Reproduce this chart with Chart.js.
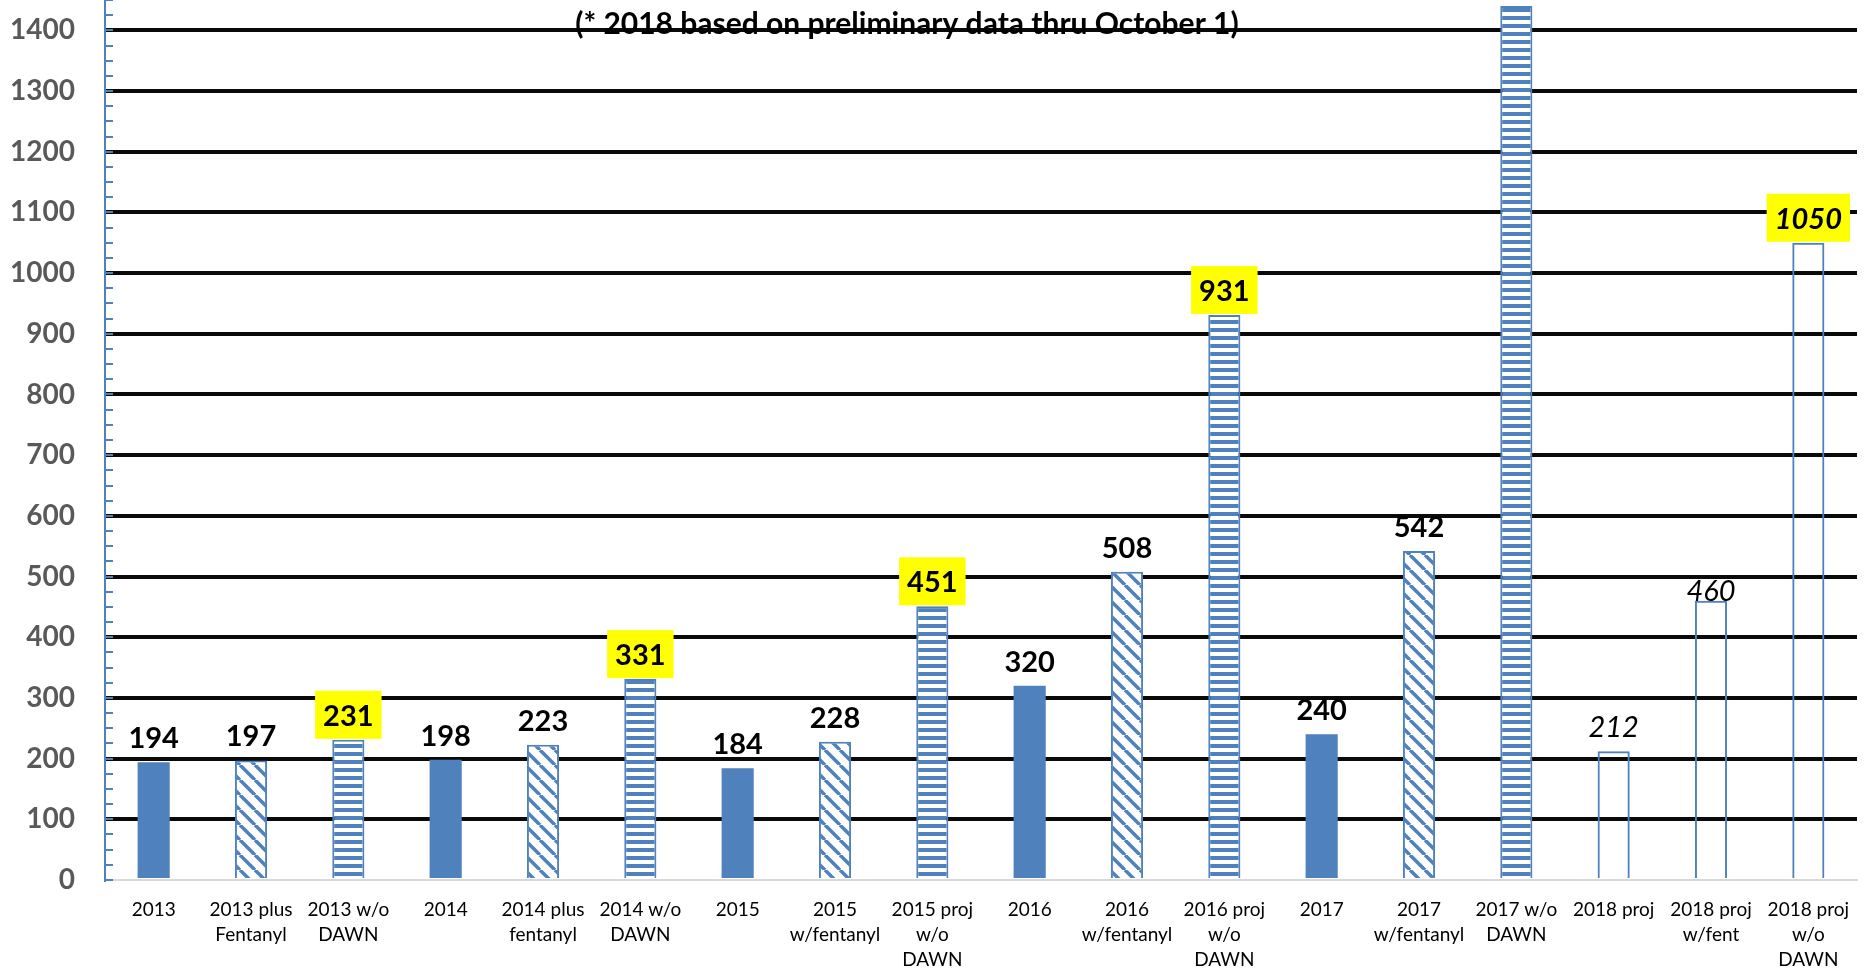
<!DOCTYPE html>
<html lang="en">
<head>
  <meta charset="UTF-8" />
  <title>Projected counts 2013-2018</title>
  <script src="https://cdn.jsdelivr.net/npm/chart.js"></script>
  <style>
    html, body { margin: 0; padding: 0; background: #fff; }
    #wrap { width: 1870px; height: 973px; position: relative; }
  </style>
</head>
<body>
  <div id="wrap"><canvas id="chart"></canvas></div>

  <script>
    // x-axis categories, broken into lines like the original
    const categories = [
      ['2013'], ['2013 plus', 'Fentanyl'], ['2013 w/o', 'DAWN'],
      ['2014'], ['2014 plus', 'fentanyl'], ['2014 w/o', 'DAWN'],
      ['2015'], ['2015', 'w/fentanyl'], ['2015 proj', 'w/o', 'DAWN'],
      ['2016'], ['2016', 'w/fentanyl'], ['2016 proj', 'w/o', 'DAWN'],
      ['2017'], ['2017', 'w/fentanyl'], ['2017 w/o', 'DAWN'],
      ['2018 proj'], ['2018 proj', 'w/fent'], ['2018 proj', 'w/o', 'DAWN']
    ];
    const values = [194, 197, 231, 198, 223, 331, 184, 228, 451, 320, 508, 931, 240, 542, 1440, 212, 460, 1050];
    const yTicks = [0, 100, 200, 300, 400, 500, 600, 700, 800, 900, 1000, 1100, 1200, 1300, 1400];

    // fill type of each bar
    const barKind = ['solid', 'diag', 'horiz', 'solid', 'diag', 'horiz', 'solid', 'diag', 'horiz',
                     'solid', 'diag', 'horiz', 'solid', 'diag', 'horiz', 'open', 'open', 'open'];
    const highlighted = [2, 5, 8, 11, 17];   // yellow label boxes
    const italicBars = [15, 16, 17];         // 2018 projections
    const hiddenLabels = [14];               // label falls off the top
    const note = '(* 2018 based on preliminary data thru October 1)';

    const BLUE = '#4f81bd';

    function stripes() {
      const c = document.createElement('canvas');
      c.width = 8; c.height = 8;
      const g = c.getContext('2d');
      g.fillStyle = '#fff'; g.fillRect(0, 0, 8, 8);
      g.fillStyle = BLUE; g.fillRect(0, 0, 8, 4);
      return g.createPattern(c, 'repeat');
    }

    function diagonals() {
      const s = 15;
      const c = document.createElement('canvas');
      c.width = s; c.height = s;
      const g = c.getContext('2d');
      g.fillStyle = '#fff'; g.fillRect(0, 0, s, s);
      g.strokeStyle = BLUE; g.lineWidth = 3.5;
      for (const o of [-s, 0, s]) {
        g.beginPath(); g.moveTo(o, 0); g.lineTo(o + s, s); g.stroke();
      }
      return g.createPattern(c, 'repeat');
    }

    const fills = { solid: BLUE, diag: diagonals(), horiz: stripes(), open: 'rgba(0,0,0,0)' };

    // small inward ticks on the y axis, every 25
    const minorTicks = {
      id: 'minorTicks',
      afterDraw(chart) {
        const y = chart.scales.y, ctx = chart.ctx, left = chart.chartArea.left;
        ctx.save();
        ctx.strokeStyle = BLUE; ctx.lineWidth = 2;
        for (let v = 0; v <= y.max; v += 25) {
          const py = Math.round(y.getPixelForValue(v));
          ctx.beginPath(); ctx.moveTo(left, py); ctx.lineTo(left + 8, py); ctx.stroke();
        }
        ctx.restore();
      }
    };

    // value labels above bars + the note at the top
    const valueLabels = {
      id: 'valueLabels',
      afterDatasetsDraw(chart) {
        const ctx = chart.ctx;
        chart.getDatasetMeta(0).data.forEach((bar, i) => {
          if (hiddenLabels.includes(i)) return;
          const italic = italicBars.includes(i);
          const boxed = highlighted.includes(i);
          const text = String(values[i]);
          ctx.save();
          ctx.font = (italic ? 'italic ' : '') + (italic && !boxed ? '' : 'bold ') + '29px Lato';
          ctx.textAlign = 'center';
          ctx.textBaseline = 'alphabetic';
          let base = bar.y - (i === 16 ? 0 : 14);
          if (boxed) {
            const w = ctx.measureText(text).width + 16;
            ctx.fillStyle = '#ffff00';
            ctx.fillRect(bar.x - w / 2, bar.y - 49, w, 48);
            base = bar.y - 14;
          }
          ctx.fillStyle = '#000';
          ctx.fillText(text, bar.x, base);
          ctx.restore();
        });

        ctx.save();
        ctx.font = 'bold 30px Lato';
        ctx.fillStyle = '#000';
        ctx.textAlign = 'center';
        ctx.textBaseline = 'alphabetic';
        ctx.fillText(note, chart.width * 0.485, 34);
        ctx.restore();
      }
    };

    new Chart(document.getElementById('chart'), {
      type: 'bar',
      data: {
        labels: categories,
        datasets: [{
          data: values,
          backgroundColor: barKind.map(k => fills[k]),
          borderColor: BLUE,
          borderWidth: barKind.map(k => k === 'solid' ? 0 : 2),
          barPercentage: 0.33,
          categoryPercentage: 1
        }]
      },
      options: {
        responsive: true,
        maintainAspectRatio: false,
        animation: false,
        layout: { padding: { left: 0, right: 13, top: 0, bottom: 0 } },
        plugins: { legend: { display: false }, tooltip: { enabled: false } },
        scales: {
          x: {
            grid: { display: false, drawTicks: false },
            border: { display: true, color: '#d9d9d9', width: 2 },
            ticks: {
              color: '#000',
              padding: 17,
              maxRotation: 0,
              autoSkip: false,
              font: { family: 'Lato', size: 19, lineHeight: '25px' }
            },
            afterFit(s) { s.height = 93; s.paddingLeft = 0; s.paddingRight = 0; }
          },
          y: {
            min: 0,
            max: 1450,
            grid: {
              drawTicks: false,
              lineWidth: 4,
              color: c => (c.tick && c.tick.value === 0) ? 'rgba(0,0,0,0)' : '#0a0a0a'
            },
            border: { display: true, color: BLUE, width: 2 },
            ticks: {
              color: '#595959',
              padding: 30,
              callback: v => String(v),
              font: { family: 'Lato', size: 28, weight: 'bold' }
            },
            afterBuildTicks(s) { s.ticks = yTicks.map(v => ({ value: v })); },
            afterFit(s) { s.width = 105; s.paddingTop = 0; s.paddingBottom = 0; }
          }
        }
      },
      plugins: [minorTicks, valueLabels]
    });
  </script>
</body>
</html>
